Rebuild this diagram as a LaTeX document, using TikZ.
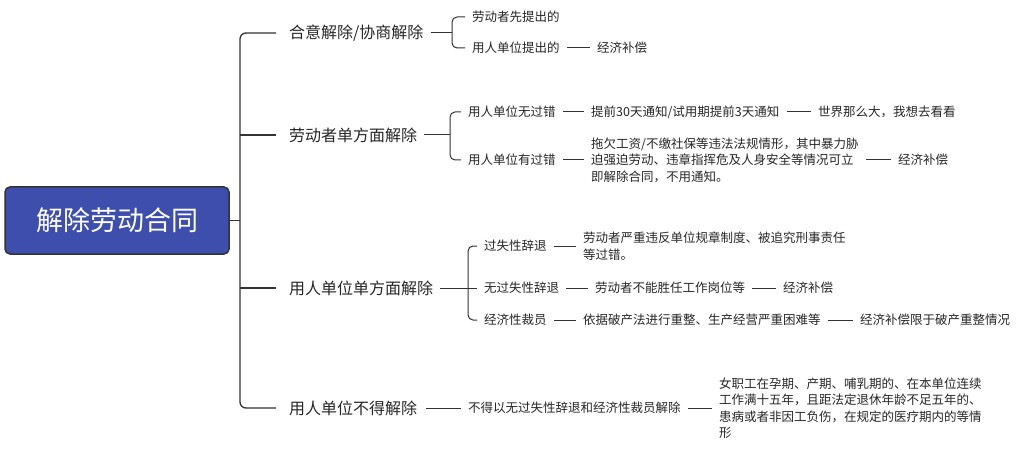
\documentclass[tikz,border=0pt]{standalone}
\usepackage{fontspec}
\setmainfont{Noto Sans CJK SC}
\begin{document}
\begin{tikzpicture}[x=1pt,y=-1pt,
  l1/.style={anchor=west,inner sep=1pt,font=\fontsize{16}{18}\selectfont,text=black!85},
  l2/.style={anchor=west,inner sep=1pt,font=\fontsize{12.5}{16.5}\selectfont,text=black!85,align=left},
  br/.style={draw=black!80,line width=1.3pt,rounded corners=6pt},
  bs/.style={draw=black!80,line width=1pt,rounded corners=5pt},
  ln/.style={draw=black!80,line width=1pt}]
\useasboundingbox (0,0) rectangle (1025,449);
\node[draw=black!80,line width=1.5pt,fill={rgb,255:red,62;green,78;blue,172},rounded corners=5pt,
  minimum width=224pt,minimum height=67pt,text=white,font=\fontsize{27}{30}\selectfont] (root) at (117,220.5) {解除劳动合同};
% level 1
\node[l1] (a) at (288,33) {合意解除/协商解除};
\node[l1] (b) at (288,135) {劳动者单方面解除};
\node[l1] (c) at (288,288) {用人单位单方面解除};
\node[l1] (d) at (288,408) {用人单位不得解除};
\draw[br] (root.east) -- (240,220.5);
\draw[br] (a.west) ++(-12,0) -- (240,33) -- (240,408) -- ([xshift=-12pt]d.west);
\draw[br] (240,135) -- ([xshift=-12pt]b.west);
\draw[br] (240,288) -- ([xshift=-12pt]c.west);
% a
\node[l2] (a1) at (471,17) {劳动者先提出的};
\node[l2] (a2) at (471,48) {用人单位提出的};
\node[l2] (a3) at (596,48) {经济补偿};
\draw[bs] ([xshift=6pt]a.east) -- (452,33);
\draw[bs] ([xshift=-6pt]a1.west) -- (452,17) -- (452,48) -- ([xshift=-6pt]a2.west);
\draw[ln] ([xshift=6pt]a2.east) -- ([xshift=-6pt]a3.west);
% b
\node[l2] (b1) at (467,112) {用人单位无过错};
\node[l2] (b2) at (590,112) {提前30天通知/试用期提前3天通知};
\node[l2] (b3) at (817,112) {世界那么大，我想去看看};
\node[l2] (b4) at (467,160) {用人单位有过错};
\node[l2] (b5) at (590,160) {拖欠工资/不缴社保等违法法规情形，其中暴力胁\\迫强迫劳动、违章指挥危及人身安全等情况可立\\即解除合同，不用通知。};
\node[l2] (b6) at (897,160) {经济补偿};
\draw[bs] ([xshift=6pt]b.east) -- (450,135);
\draw[bs] ([xshift=-6pt]b1.west) -- (450,112) -- (450,160) -- ([xshift=-6pt]b4.west);
\draw[ln] ([xshift=6pt]b1.east) -- ([xshift=-6pt]b2.west);
\draw[ln] ([xshift=6pt]b2.east) -- ([xshift=-6pt]b3.west);
\draw[ln] ([xshift=6pt]b4.east) -- ([xshift=-6pt]b5.west);
\draw[ln] ([xshift=6pt]b5.east) -- ([xshift=-6pt]b6.west);
% c
\node[l2] (c1) at (483,246) {过失性辞退};
\node[l2] (c2) at (582,246) {劳动者严重违反单位规章制度、被追究刑事责任\\等过错。};
\node[l2] (c3) at (483,288) {无过失性辞退};
\node[l2] (c4) at (594,288) {劳动者不能胜任工作岗位等};
\node[l2] (c5) at (782,288) {经济补偿};
\node[l2] (c6) at (483,320) {经济性裁员};
\node[l2] (c7) at (582,320) {依据破产法进行重整、生产经营严重困难等};
\node[l2] (c8) at (859,320) {经济补偿限于破产重整情况};
\draw[bs] ([xshift=6pt]c.east) -- (468,288);
\draw[bs] ([xshift=-6pt]c1.west) -- (468,246) -- (468,320) -- ([xshift=-6pt]c6.west);
\draw[bs] (468,288) -- ([xshift=-6pt]c3.west);
\draw[ln] ([xshift=6pt]c1.east) -- ([xshift=-6pt]c2.west);
\draw[ln] ([xshift=6pt]c3.east) -- ([xshift=-6pt]c4.west);
\draw[ln] ([xshift=6pt]c4.east) -- ([xshift=-6pt]c5.west);
\draw[ln] ([xshift=6pt]c6.east) -- ([xshift=-6pt]c7.west);
\draw[ln] ([xshift=6pt]c7.east) -- ([xshift=-6pt]c8.west);
% d
\node[l2] (d1) at (467,408) {不得以无过失性辞退和经济性裁员解除};
\node[l2] (d2) at (718,408) {女职工在孕期、产期、哺乳期的、在本单位连续\\工作满十五年，且距法定退休年龄不足五年的、\\患病或者非因工负伤，在规定的医疗期内的等情\\形};
\draw[ln] ([xshift=8pt]d.east) -- ([xshift=-6pt]d1.west);
\draw[ln] ([xshift=6pt]d1.east) -- ([xshift=-6pt]d2.west);
\end{tikzpicture}
\end{document}
